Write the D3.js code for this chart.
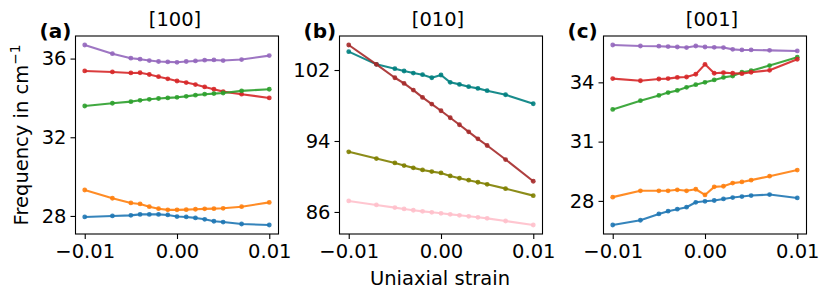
<!DOCTYPE html>
<html>
<head>
<meta charset="utf-8">
<script src="https://cdn.jsdelivr.net/npm/d3@7"></script>
<style>
html,body{margin:0;padding:0;background:#fff;}
svg text{font-family:"DejaVu Sans",sans-serif;fill:#000;}
</style>
</head>
<body>
<svg id="chart" width="830" height="300"></svg>
<script>
// ---- data ----
const strain = [-0.01, -0.007, -0.005, -0.004, -0.003, -0.002, -0.001, 0, 0.001, 0.002, 0.003, 0.004, 0.005, 0.007, 0.01];
const xTicks = [-0.01, 0, 0.01];
const xTickLabels = ["\u22120.01", "0.00", "0.01"];

// panel (a) [100]
const aPurple = [36.69, 36.25, 36.02, 35.97, 35.90, 35.85, 35.83, 35.81, 35.85, 35.88, 35.92, 35.93, 35.90, 35.95, 36.15];
const aRed    = [35.37, 35.32, 35.27, 35.28, 35.19, 35.08, 34.97, 34.86, 34.78, 34.68, 34.56, 34.44, 34.32, 34.19, 34.00];
const aGreen  = [33.59, 33.73, 33.81, 33.88, 33.93, 33.97, 34.00, 34.03, 34.08, 34.14, 34.19, 34.22, 34.25, 34.36, 34.44];
const aOrange = [29.32, 28.90, 28.66, 28.61, 28.47, 28.37, 28.31, 28.31, 28.32, 28.34, 28.36, 28.37, 28.39, 28.47, 28.69];
const aBlue   = [27.95, 28.00, 28.03, 28.08, 28.08, 28.08, 28.05, 27.97, 27.95, 27.90, 27.83, 27.73, 27.69, 27.59, 27.54];
const aTicks  = [28, 32, 36];

// panel (b) [010]
const bBrown = [104.82, 102.64, 101.13, 100.49, 99.74, 98.91, 98.16, 97.41, 96.62, 95.83, 95.03, 94.24, 93.49, 91.91, 89.46];
const bTeal  = [104.07, 102.64, 102.15, 101.89, 101.66, 101.47, 101.13, 101.44, 100.61, 100.38, 100.12, 99.93, 99.67, 99.21, 98.20];
const bOlive = [92.78, 92.02, 91.53, 91.23, 90.97, 90.74, 90.55, 90.40, 90.06, 89.80, 89.58, 89.35, 89.12, 88.63, 87.84];
const bPink  = [87.24, 86.79, 86.49, 86.34, 86.19, 86.07, 85.96, 85.85, 85.73, 85.62, 85.51, 85.40, 85.28, 84.98, 84.53];
const bTicks = [86, 94, 102];

// panel (c) [001]
const cPurple = [35.89, 35.84, 35.83, 35.81, 35.79, 35.76, 35.84, 35.79, 35.77, 35.76, 35.67, 35.64, 35.64, 35.62, 35.59];
const cRed    = [34.19, 34.08, 34.17, 34.19, 34.25, 34.27, 34.41, 34.91, 34.46, 34.49, 34.46, 34.44, 34.51, 34.61, 35.17];
const cGreen  = [32.63, 33.07, 33.34, 33.48, 33.59, 33.75, 33.88, 34.00, 34.12, 34.25, 34.32, 34.51, 34.59, 34.85, 35.27];
const cOrange = [28.19, 28.51, 28.51, 28.51, 28.56, 28.51, 28.59, 28.30, 28.71, 28.74, 28.90, 28.96, 29.05, 29.25, 29.56];
const cBlue   = [26.78, 27.02, 27.34, 27.48, 27.58, 27.68, 27.93, 27.98, 28.02, 28.10, 28.17, 28.22, 28.27, 28.32, 28.15];
const cTicks  = [28, 31, 34];

const panelTitles = ["[100]", "[010]", "[001]"];
const panelLetters = ["(a)", "(b)", "(c)"];
const xLabel = "Uniaxial strain";

// ---- layout ----
const svg = d3.select("#chart");
const frameTop = 36, frameBottom = 234, panelW = 203;
const lefts = [75.5, 339.5, 603.5];
const titleX = [175, 438, 712];
const FS = 19.5;

const panels = [
  {series: [[aPurple, "#9467bd"], [aRed, "#d62728"], [aGreen, "#2ca02c"], [aOrange, "#ff7f0e"], [aBlue, "#1f77b4"]], ticks: aTicks},
  {series: [[bPink, "#ffc0cb"], [bOlive, "#808000"], [bTeal, "#008080"], [bBrown, "#a52a2a"]], ticks: bTicks},
  {series: [[cPurple, "#9467bd"], [cGreen, "#2ca02c"], [cRed, "#d62728"], [cOrange, "#ff7f0e"], [cBlue, "#1f77b4"]], ticks: cTicks}
];

panels.forEach((p, i) => {
  const L = lefts[i];
  const xs = d3.scaleLinear().domain([-0.011, 0.011]).range([L, L + panelW]);
  const all = p.series.flatMap(s => s[0]);
  const mn = d3.min(all), mx = d3.max(all), m = (mx - mn) * 0.05;
  const ys = d3.scaleLinear().domain([mn - m, mx + m]).range([frameBottom, frameTop]);

  const g = svg.append("g");
  const line = d3.line().x((d, j) => xs(strain[j])).y(d => ys(d));
  p.series.forEach(([vals, col]) => {
    g.append("path").datum(vals).attr("d", line)
      .attr("fill", "none").attr("stroke", col).attr("stroke-width", 2.1)
      .attr("stroke-linejoin", "round").attr("stroke-opacity", 0.9);
    g.selectAll(null).data(vals).enter().append("circle")
      .attr("cx", (d, j) => xs(strain[j])).attr("cy", d => ys(d))
      .attr("r", 2.4).attr("fill", col).attr("fill-opacity", 0.9);
  });

  // axes
  const xAxis = d3.axisBottom(xs).tickValues(xTicks).tickFormat((d, j) => xTickLabels[j]).tickSize(5).tickPadding(5);
  const gx = svg.append("g").attr("transform", `translate(0,${frameBottom})`).call(xAxis);
  const yAxis = d3.axisLeft(ys).tickValues(p.ticks).tickFormat(d3.format("d")).tickSize(5).tickPadding(4);
  const gy = svg.append("g").attr("transform", `translate(${L},0)`).call(yAxis);
  [gx, gy].forEach(a => {
    a.select(".domain").remove();
    a.selectAll("line").attr("stroke", "#000").attr("stroke-width", 1.1);
    a.selectAll("text").attr("font-size", FS).attr("font-family", "DejaVu Sans");
  });

  svg.append("rect").attr("x", L).attr("y", frameTop).attr("width", panelW).attr("height", frameBottom - frameTop)
    .attr("fill", "none").attr("stroke", "#000").attr("stroke-width", 1.1);

  svg.append("text").attr("x", titleX[i]).attr("y", 25.5).attr("text-anchor", "middle")
    .attr("font-size", FS).text(panelTitles[i]);
  svg.append("text").attr("x", L - 36).attr("y", 37.5).attr("font-size", FS + 0.5)
    .attr("font-weight", "bold").text(panelLetters[i]);
});

svg.append("text").attr("x", 440).attr("y", 285).attr("text-anchor", "middle")
  .attr("font-size", FS).text(xLabel);

const yl = svg.append("text").attr("transform", "translate(28,135) rotate(-90)")
  .attr("text-anchor", "middle").attr("font-size", FS);
yl.append("tspan").text("Frequency in cm");
yl.append("tspan").attr("dy", -8).attr("font-size", FS * 0.7).text("\u22121");
</script>
</body>
</html>
